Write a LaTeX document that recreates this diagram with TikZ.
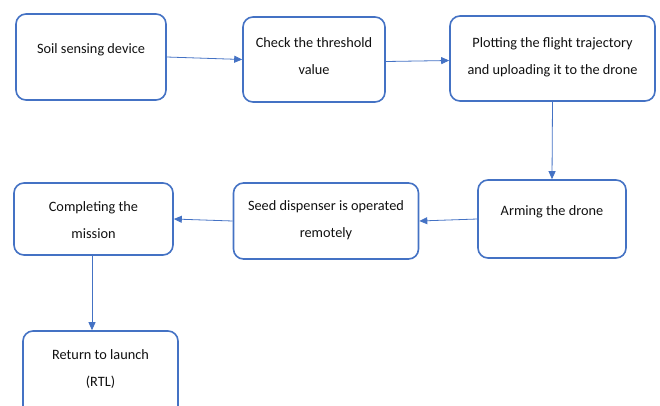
\documentclass[tikz,border=0pt]{standalone}
\usepackage{fontspec}
\setmainfont{Carlito}
\usetikzlibrary{arrows.meta}
\definecolor{boxblue}{HTML}{4472C4}
\definecolor{txt}{HTML}{111111}
\tikzset{
  box/.style={draw=boxblue, line width=1.6pt, rounded corners=10pt, fill=white, inner sep=0pt},
  lbl/.style={text=txt, align=center, inner sep=0pt, font=\fontsize{14.3}{27}\selectfont},
  conn/.style={draw=boxblue, line width=0.8pt, -{Triangle[length=8pt,width=7pt]}}
}
\begin{document}
\begin{tikzpicture}[x=1pt,y=-1pt]
\useasboundingbox (0,0) rectangle (660,405);
\clip (0,0) rectangle (660,405);
% boxes
\node[box, minimum width=150pt, minimum height=86pt] (b1) at (91,57) {};
\node[box, minimum width=142pt, minimum height=85pt] (b2) at (314,59.5) {};
\node[box, minimum width=205pt, minimum height=85pt] (b3) at (552.5,58.5) {};
\node[box, minimum width=148pt, minimum height=78pt] (b4) at (552,219) {};
\node[box, minimum width=185pt, minimum height=76pt] (b5) at (326,221) {};
\node[box, minimum width=159pt, minimum height=72pt] (b6) at (93.5,219) {};
\node[box, minimum width=155pt, minimum height=90pt] (b7) at (100.5,376) {};
% texts
\node[lbl] (t1) at (91,50) {Soil sensing device};
\node[lbl] (t2) at (314,56.5) {Check the threshold\\value};
\node[lbl] (t3) at (552.5,57) {Plotting the flight trajectory\\and uploading it to the drone};
\node[lbl] (t4) at (552,212) {Arming the drone};
\node[lbl] (t5) at (326,220.5) {Seed dispenser is operated\\remotely};
\node[lbl] (t6) at (93.5,220) {Completing the\\mission};
\node[lbl] (t7) at (100.5,369) {Return to launch\\(RTL)};
% connectors
\draw[conn] (b1.east) -- (b2.west);
\draw[conn] ([yshift=-2pt]b2.east) -- ([yshift=-2pt]b3.west);
\draw[conn] (b3.south) -- (b4.north);
\draw[conn] (b4.west) -- (b5.east);
\draw[conn] (b5.west) -- (b6.east);
\draw[conn] ([xshift=-1.5pt]b6.south) -- ([xshift=-1.5pt]b6.south |- b7.north);
\end{tikzpicture}
\end{document}
